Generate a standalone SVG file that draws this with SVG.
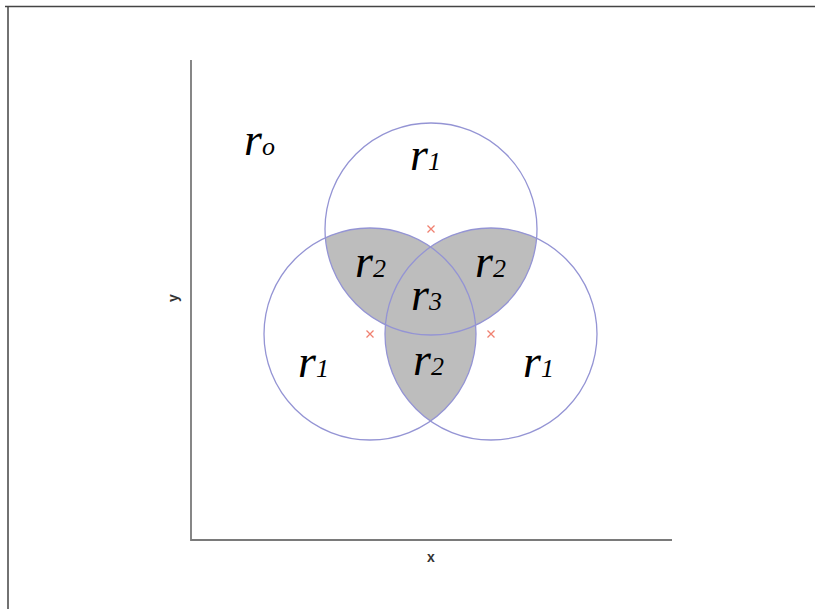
<svg xmlns="http://www.w3.org/2000/svg" width="815" height="609" viewBox="0 0 815 609">
<style>
.frame{stroke:#444;stroke-width:1.5;fill:none}
.axis{stroke:#7a7a7a;stroke-width:1.8;fill:none}
.circ{fill:none;stroke:#9494d4;stroke-width:1.3}
.shade{fill:#bdbdbd}
.mk{stroke:#f08070;stroke-width:1.3}
.lab{font-family:"Liberation Serif","DejaVu Serif",serif;font-style:italic;font-size:46px;fill:#000}
.sub{font-size:26px}
.ax{font-family:"Liberation Sans","DejaVu Sans",sans-serif;font-size:14px;font-weight:bold;fill:#333}
</style>
<defs>
<clipPath id="cA"><circle cx="431" cy="229" r="106"/></clipPath>
<clipPath id="cB"><circle cx="370" cy="334" r="106"/></clipPath>
<clipPath id="cC"><circle cx="491" cy="334" r="106"/></clipPath>
</defs>
<rect width="815" height="609" fill="#fff"/>
<path class="frame" d="M5,6.5H815M8,6V609"/>
<g id="axes">
<path class="axis" d="M191,60V540H672"/>
<text class="ax" x="431" y="562" text-anchor="middle">x</text>
<text class="ax" x="0" y="0" text-anchor="middle" transform="translate(178,298) rotate(-90)">y</text>
</g>
<g id="shading">
<circle class="shade" cx="370" cy="334" r="106" clip-path="url(#cA)"/>
<circle class="shade" cx="491" cy="334" r="106" clip-path="url(#cA)"/>
<circle class="shade" cx="491" cy="334" r="106" clip-path="url(#cB)"/>
</g>
<g id="circleTop"><circle class="circ" cx="431" cy="229" r="106"/><path class="mk" d="M427.5,225.5l7,7m0,-7l-7,7"/></g>
<g id="circleLeft"><circle class="circ" cx="370" cy="334" r="106"/><path class="mk" d="M366.5,330.5l7,7m0,-7l-7,7"/></g>
<g id="circleRight"><circle class="circ" cx="491" cy="334" r="106"/><path class="mk" d="M487.5,330.5l7,7m0,-7l-7,7"/></g>
<g id="labels">
<text class="lab" x="244" y="155">r<tspan class="sub">o</tspan></text>
<text class="lab" x="410" y="170">r<tspan class="sub">1</tspan></text>
<text class="lab" x="355" y="277">r<tspan class="sub">2</tspan></text>
<text class="lab" x="475" y="277">r<tspan class="sub">2</tspan></text>
<text class="lab" x="411" y="310">r<tspan class="sub">3</tspan></text>
<text class="lab" x="413" y="375">r<tspan class="sub">2</tspan></text>
<text class="lab" x="298" y="377">r<tspan class="sub">1</tspan></text>
<text class="lab" x="523" y="377">r<tspan class="sub">1</tspan></text>
</g>
</svg>
